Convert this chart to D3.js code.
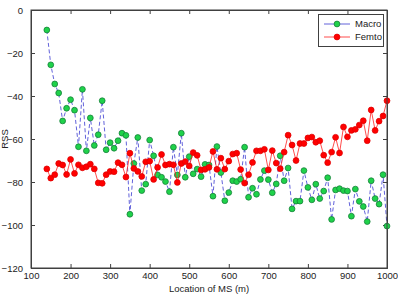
<!DOCTYPE html>
<html><head><meta charset="utf-8">
<script src="https://cdn.jsdelivr.net/npm/d3@7"></script>
<style>
html,body{margin:0;padding:0;background:#fff;}
svg{display:block;font-family:"Liberation Sans",Arial,sans-serif;}
</style></head>
<body>
<svg id="c" width="398" height="298"></svg>
<script>
const locations = d3.range(140, 1001, 10);
const macro = [-9.3,-25.5,-34.4,-38.6,-51.6,-45.7,-41.7,-46.6,-63.6,-36.9,
 -65.5,-50.2,-63,-58,-42.2,-65,-61.7,-64.3,-60.8,-57.3,
 -58.3,-95,-71.4,-59.3,-84,-81,-60.5,-67.8,-76.7,-77.8,
 -79.8,-84.5,-63.8,-76.7,-57.3,-77.8,-68.2,-76.2,-74,-77.5,
 -71.8,-72.1,-86.6,-63.5,-75.6,-88.7,-84.9,-79.4,-79.8,-78.7,
 -63.8,-87.1,-82.9,-85.7,-78.8,-74.7,-78.9,-85,-80.9,-67.8,
 -79.4,-73.5,-92.5,-88.9,-88.9,-74.7,-82.5,-88.3,-81,-87.7,
 -84.2,-78,-97.4,-83.7,-83.1,-84,-84.2,-95.9,-83.3,-89,
 -91.4,-98.4,-79.4,-87.7,-90.3,-76.6,-100.5];
const femto = [-73.9,-78.2,-76.6,-71.4,-72.1,-76.5,-69.5,-76,-72,-73.4,
 -72.9,-71.7,-73.9,-80.4,-80.6,-76.6,-75.1,-75.2,-71,-72,
 -77.7,-66.6,-73.7,-75.1,-77.4,-70.6,-70.3,-78.8,-73.2,-67.2,
 -72.1,-71.7,-72,-80.2,-71.4,-70.5,-72.5,-66.3,-67.6,-74.4,
 -74.1,-73.2,-65.8,-74.1,-68.9,-74,-70.3,-67,-66.6,-74.2,
 -80.5,-76.6,-70.9,-65.5,-65.5,-64.8,-74.4,-65.4,-71.2,-73.8,
 -66.1,-58.2,-62.8,-70,-62.1,-62.1,-59.5,-59.1,-61.5,-60.8,
 -67.5,-71,-66.1,-59.2,-66.5,-54.4,-59,-56,-55.5,-53.5,
 -51.5,-60.8,-46.5,-56,-51.7,-49.3,-42.2];
const xTicks = [100,200,300,400,500,600,700,800,900,1000];
const yTicks = [0,-20,-40,-60,-80,-100,-120];
const seriesNames = ["Macro","Femto"];
const xLabel = "Location of MS (m)";
const yLabel = "RSS";

const L = 31, R = 387, T = 10, B = 268;
const svg = d3.select("#c");
const x = d3.scaleLinear().domain([100,1000]).range([L,R]);
const y = d3.scaleLinear().domain([-120,0]).range([B,T]);
const axisCol = "#404040";

svg.append("rect").attr("x",L).attr("y",T).attr("width",R-L).attr("height",B-T)
  .attr("fill","#fff");

// axes
const gx = svg.append("g").attr("transform",`translate(0,${B})`)
  .call(d3.axisBottom(x).tickValues(xTicks).tickSize(-4).tickPadding(4).tickFormat(d3.format("d")));
const gxt = svg.append("g").attr("transform",`translate(0,${T})`)
  .call(d3.axisTop(x).tickValues(xTicks).tickSize(-4).tickFormat(""));
const gy = svg.append("g").attr("transform",`translate(${L},0)`)
  .call(d3.axisLeft(y).tickValues(yTicks).tickSize(-4).tickPadding(8).tickFormat(d3.format("d")));
const gyr = svg.append("g").attr("transform",`translate(${R},0)`)
  .call(d3.axisRight(y).tickValues(yTicks).tickSize(-4).tickFormat(""));
[gx,gxt,gy,gyr].forEach(g=>{
  g.select(".domain").attr("stroke",axisCol).attr("stroke-width",1);
  g.selectAll(".tick line").attr("stroke",axisCol);
  g.selectAll("text").attr("fill","#222").attr("font-size","9.5px")
   .attr("font-family","'Liberation Sans',Arial,sans-serif");
});
gy.selectAll("text").attr("dy","0.35em");

// labels
svg.append("text").attr("x",(L+R)/2).attr("y",292).attr("text-anchor","middle")
  .attr("font-size","9.5px").attr("fill","#222").text(xLabel);
svg.append("text").attr("transform",`translate(8,139) rotate(-90)`).attr("text-anchor","middle")
  .attr("font-size","9.5px").attr("fill","#222").text(yLabel);

const line = d3.line().x((d,i)=>x(locations[i])).y(d=>y(d));
const plot = svg.append("g");

// Macro
plot.append("path").datum(macro).attr("d",line).attr("fill","none")
  .attr("stroke","#3a3ad0").attr("stroke-width",0.8).attr("stroke-dasharray","4,2.5");
plot.selectAll(".mm").data(macro).enter().append("circle")
  .attr("cx",(d,i)=>x(locations[i])).attr("cy",d=>y(d)).attr("r",2.9)
  .attr("fill","#1fd24a").attr("stroke","#17803a").attr("stroke-width",0.8);

// Femto
plot.append("path").datum(femto).attr("d",line).attr("fill","none")
  .attr("stroke","#ff2020").attr("stroke-width",0.8);
plot.selectAll(".fm").data(femto).enter().append("circle")
  .attr("cx",(d,i)=>x(locations[i])).attr("cy",d=>y(d)).attr("r",2.9)
  .attr("fill","#ff0000").attr("stroke","#e00000").attr("stroke-width",0.8);

// redraw frame on top
svg.append("rect").attr("x",L).attr("y",T).attr("width",R-L).attr("height",B-T)
  .attr("fill","none").attr("stroke",axisCol).attr("stroke-width",1);

// legend
const lg = svg.append("g");
lg.append("rect").attr("x",318.5).attr("y",14.5).attr("width",65).attr("height",32)
  .attr("fill","#fff").attr("stroke",axisCol).attr("stroke-width",1);
const legItems = [
  {name:seriesNames[0], line:"#3a3ad0", fill:"#1fd24a", stroke:"#17803a", y:24},
  {name:seriesNames[1], line:"#ff2020", fill:"#ff0000", stroke:"#e00000", y:37}
];
legItems.forEach(it=>{
  lg.append("line").attr("x1",324).attr("x2",350).attr("y1",it.y).attr("y2",it.y)
    .attr("stroke",it.line).attr("stroke-width",0.8);
  lg.append("circle").attr("cx",337).attr("cy",it.y).attr("r",2.9)
    .attr("fill",it.fill).attr("stroke",it.stroke).attr("stroke-width",0.8);
  lg.append("text").attr("x",355).attr("y",it.y).attr("dy","0.35em")
    .attr("font-size","9.5px").attr("fill","#222").text(it.name);
});
</script>
</body></html>
